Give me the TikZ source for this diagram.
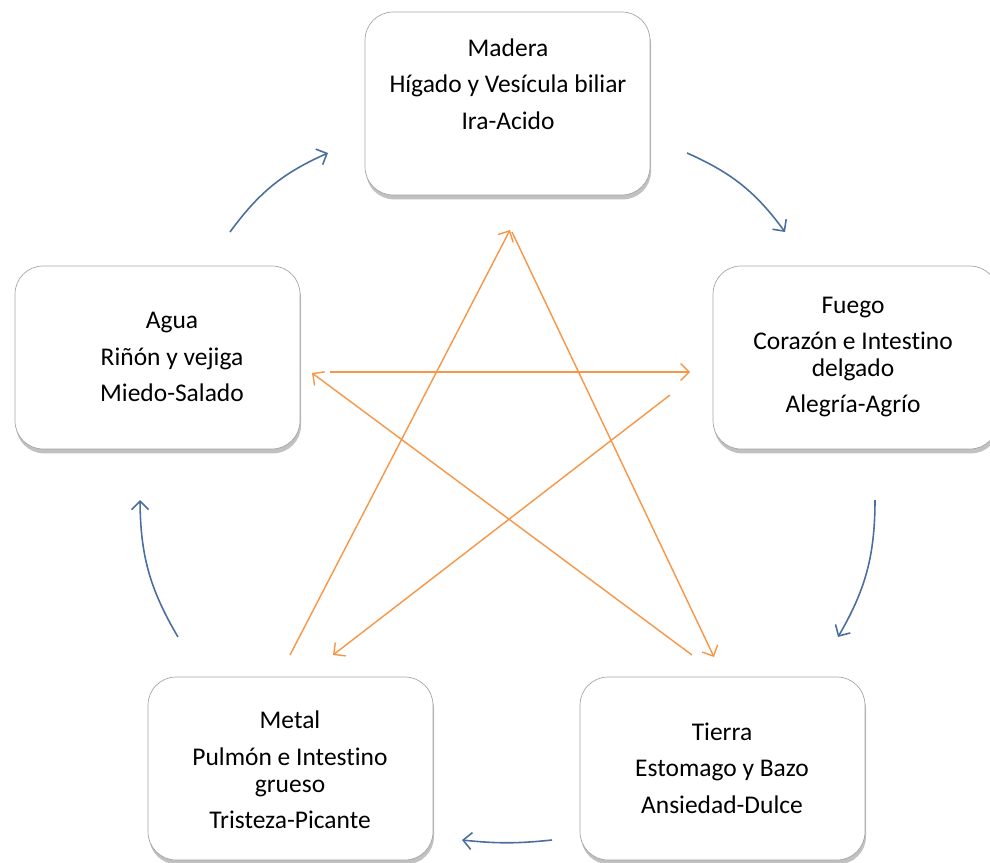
\documentclass[tikz,border=0pt]{standalone}
\usepackage{fontspec}
\setmainfont{Carlito}[Ligatures=CommonOff]
\usetikzlibrary{positioning, arrows.meta, shadows}

\definecolor{azul}{RGB}{74,110,160}
\definecolor{naranja}{RGB}{247,150,70}

\tikzset{
    caja/.style={draw=black!35, fill=white, rounded corners=0.56cm,
        minimum width=5.7cm, minimum height=3.66cm, inner sep=0pt,
        drop shadow={shadow xshift=0.6pt, shadow yshift=-2.5pt, opacity=0.35, fill=black!70}},
    texto/.style={align=center, font=\fontsize{14.5}{15.3}\selectfont},
    ciclo/.style={azul, line width=0.9pt, -{Straight Barb[length=1.7mm, width=3.4mm]}},
    control/.style={naranja, line width=0.8pt, -{Straight Barb[length=1.7mm, width=3.4mm]}},
}

\begin{document}
\begin{tikzpicture}[x={(0.02cm,0)}, y={(0,-0.02cm)}]
        \useasboundingbox (0,0) rectangle (990,862);

        % cajas de los cinco elementos
        \node[caja] (madera) at (507.5,103.5) {};
        \node[caja] (fuego)  at (855.5,357.5) {};
        \node[caja] (agua)   at (157.5,357.5) {};
        \node[caja] (metal)  at (290.5,768.5) {};
        \node[caja] (tierra) at (722.5,768.5) {};

        % textos
        \node[texto] (tmadera) at (508,84)  {Madera\\[5.5pt]Hígado y Vesícula biliar\\[5.5pt]Ira-Acido};
        \node[texto] (tfuego)  at (853,357) {Fuego\\[5.5pt]Corazón e Intestino\\delgado\\[5.5pt]Alegría-Agrío};
        \node[texto] (tagua)   at (172,357) {Agua\\[5.5pt]Riñón y vejiga\\[5.5pt]Miedo-Salado};
        \node[texto] (tmetal)  at (290,770) {Metal\\[5.5pt]Pulmón e Intestino\\grueso\\[5.5pt]Tristeza-Picante};
        \node[texto] (ttierra) at (722,768) {Tierra\\[5.5pt]Estomago y Bazo\\[5.5pt]Ansiedad-Dulce};

        % extremos de las flechas del ciclo
        \coordinate (ag1) at (230,232);  \coordinate (ma1) at (328,153);
        \coordinate (ma2) at (687,153);  \coordinate (fu1) at (785,232);
        \coordinate (fu2) at (875,500);  \coordinate (ti1) at (838,637);
        \coordinate (ti2) at (552,840);  \coordinate (me1) at (462,840);
        \coordinate (me2) at (178,637);  \coordinate (ag2) at (140,500);

        % ciclo de generacion
        \draw[ciclo] (ag1) to[bend left=15] (ma1);
        \draw[ciclo] (ma2) to[bend left=15] (fu1);
        \draw[ciclo] (fu2) to[bend left=15] (ti1);
        \draw[ciclo] (ti2) to[bend left=6] (me1);
        \draw[ciclo] (me2) to[bend left=15] (ag2);

        % extremos de la estrella
        \coordinate (me3) at (290,655);  \coordinate (ma3) at (510,230);
        \coordinate (ma4) at (512,232);  \coordinate (ti3) at (714,657);
        \coordinate (ti4) at (692,655);  \coordinate (ag3) at (312,373);
        \coordinate (ag4) at (330,372);  \coordinate (fu3) at (690,372);
        \coordinate (fu4) at (670,395);  \coordinate (me4) at (333,655);

        % ciclo de control
        \draw[control] (me3) -- (ma3);
        \draw[control] (ma4) -- (ti3);
        \draw[control] (ti4) -- (ag3);
        \draw[control] (ag4) -- (fu3);
        \draw[control] (fu4) -- (me4);
    \end{tikzpicture}
\end{document}
